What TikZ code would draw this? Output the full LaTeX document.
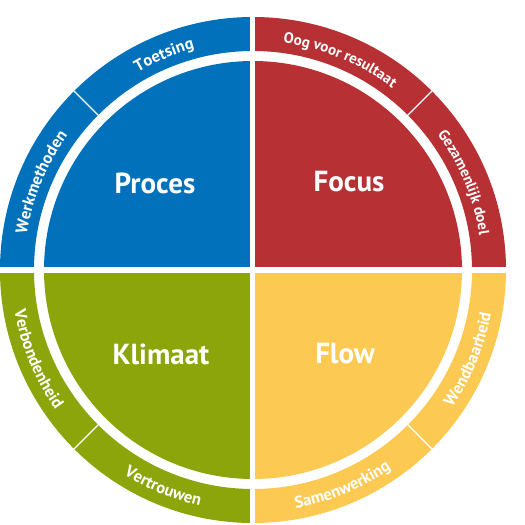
\documentclass[tikz,border=0pt]{standalone}
\usepackage{fontspec}
\setmainfont{PT Sans}
\usetikzlibrary{decorations.text}
\definecolor{cBlue}{RGB}{0,113,186}
\definecolor{cRed}{RGB}{183,49,52}
\definecolor{cGreen}{RGB}{139,165,11}
\definecolor{cYellow}{RGB}{252,202,82}
\tikzset{
  bigtxt/.style={text=white,font=\fontsize{29}{32}\selectfont\bfseries},
  ringtxt/.style 2 args={decorate,decoration={text along path,text align=center,text color=white,
     text={|\fontsize{#1}{#1}\selectfont\bfseries|#2}}},
  gapline/.style={white,line width=5pt},
  sepline/.style={white,line width=1.4pt}
}
\newcommand{\quadfill}[3]{%
  \fill[#1] (0,0) -- (#2:209pt) arc[start angle=#2,end angle=#3,radius=209pt] -- cycle;
  \fill[#1] (#2:219pt) arc[start angle=#2,end angle=#3,radius=219pt] -- (#3:253pt) arc[start angle=#3,end angle=#2,radius=253pt] -- cycle;}
\begin{document}
\begin{tikzpicture}
\useasboundingbox (-253pt,-255pt) rectangle (272pt,270pt);
\quadfill{cRed}{0}{90}
\quadfill{cBlue}{90}{180}
\quadfill{cGreen}{180}{270}
\quadfill{cYellow}{270}{360}
\draw[gapline] (-258pt,0pt) -- (258pt,0pt);
\draw[gapline] (0pt,-258pt) -- (0pt,258pt);
\foreach \a in {45,135,225,315}{\draw[sepline] (\a:218pt) -- (\a:254pt);}
% ring labels, upper half (clockwise)
\path[ringtxt={16.5}{Werkmethoden}] (180:229pt) arc[start angle=180,end angle=135,radius=229pt];
\path[ringtxt={16.5}{Toetsing}] (135:229pt) arc[start angle=135,end angle=90,radius=229pt];
\path[ringtxt={15}{Oog voor resultaat}] (90:229pt) arc[start angle=90,end angle=45,radius=229pt];
\path[ringtxt={15}{Gezamenlijk doel}] (45:229pt) arc[start angle=45,end angle=0,radius=229pt];
% ring labels, lower half (counter-clockwise)
\path[ringtxt={16.5}{Verbondenheid}] (180:242pt) arc[start angle=180,end angle=225,radius=242pt];
\path[ringtxt={16.5}{Vertrouwen}] (225:242pt) arc[start angle=225,end angle=270,radius=242pt];
\path[ringtxt={16.5}{Samenwerking}] (270:242pt) arc[start angle=270,end angle=315,radius=242pt];
\path[ringtxt={16.5}{Wendbaarheid}] (315:242pt) arc[start angle=315,end angle=360,radius=242pt];
% main labels
\node[bigtxt] (proces) at (-98pt,87pt) {Proces};
\node[bigtxt] (focus) at (96pt,88pt) {Focus};
\node[bigtxt] (klimaat) at (-92pt,-84pt) {Klimaat};
\node[bigtxt] (flow) at (92pt,-84pt) {Flow};
\end{tikzpicture}
\end{document}
